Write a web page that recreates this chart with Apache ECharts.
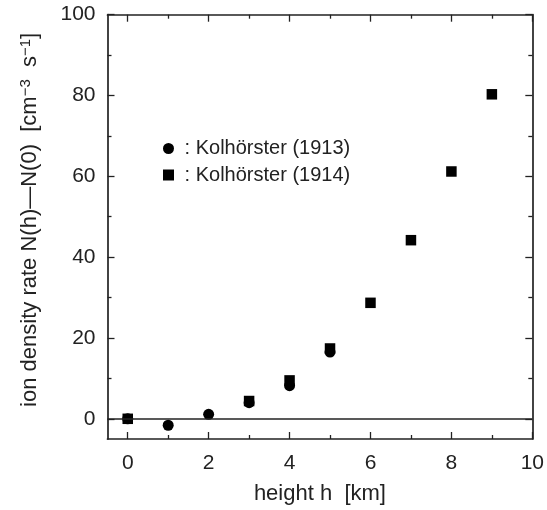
<!DOCTYPE html>
<html>
<head>
<meta charset="utf-8">
<script src="https://cdn.jsdelivr.net/npm/echarts@6/dist/echarts.min.js"></script>
<style>html,body{margin:0;padding:0;background:#fff}#c{width:547px;height:510px}</style>
</head>
<body>
<div id="c"></div>
<script>
const heights1913 = [0, 1, 2, 3, 4, 5];
const values1913 = [0, -1.6, 1.1, 4.0, 8.2, 16.5];
const heights1914 = [0, 3, 4, 5, 6, 7, 8, 9];
const values1914 = [0, 4.4, 9.5, 17.4, 28.7, 44.2, 61.2, 80.3];
const xMajorTicks = [0, 2, 4, 6, 8, 10];
const xMinorTicks = [1, 3, 5, 7, 9];
const yMajorTicks = [0, 20, 40, 60, 80, 100];
const yMinorTicks = [10, 30, 50, 70, 90];
const seriesNames = ['Kolhörster (1913)', 'Kolhörster (1914)'];

const FONT = 'Liberation Sans, Arial, Helvetica, sans-serif';
const INK = '#222';
const xMin = -0.5, xMax = 10, yMin = -5, yMax = 100;

function xAxisDef(position, ticks, len, withLine, withLabels) {
  return {
    type: 'value', position: position, min: xMin, max: xMax,
    axisLine: { show: withLine, onZero: false, lineStyle: { color: INK, width: 1.7 } },
    axisTick: { show: true, inside: true, length: len, customValues: ticks, lineStyle: { color: INK, width: 1.3 } },
    axisLabel: withLabels ? { show: true, customValues: ticks, margin: 14, fontSize: 21, color: INK, fontFamily: FONT } : { show: false },
    splitLine: { show: false }
  };
}
function yAxisDef(position, ticks, len, withLine, withLabels) {
  return {
    type: 'value', position: position, min: yMin, max: yMax,
    axisLine: { show: withLine, onZero: false, lineStyle: { color: INK, width: 1.7 } },
    axisTick: { show: true, inside: true, length: len, customValues: ticks, lineStyle: { color: INK, width: 1.3 } },
    axisLabel: withLabels ? { show: true, customValues: ticks, margin: 12, fontSize: 21, color: INK, fontFamily: FONT } : { show: false },
    splitLine: { show: false }
  };
}

const xAxes = [
  Object.assign(xAxisDef('bottom', xMajorTicks, 7, true, true), {
    name: 'height h  [km]', nameLocation: 'middle', nameGap: 44,
    nameTextStyle: { fontSize: 22, color: INK, fontFamily: FONT }
  }),
  xAxisDef('bottom', xMinorTicks, 4, false, false),
  xAxisDef('top', xMajorTicks, 7, true, false),
  xAxisDef('top', xMinorTicks, 4, false, false)
];
const yAxes = [
  Object.assign(yAxisDef('left', yMajorTicks, 7, true, true), {
    name: 'ion density rate N(h)\u2014N(0)  [cm{sup|\u22123}  s{sup|\u22121}]',
    nameLocation: 'middle', nameGap: 67, nameRotate: 90,
    nameTextStyle: {
      fontSize: 22, color: INK, fontFamily: FONT, padding: [0, 0, 0, 14],
      rich: { sup: { fontSize: 15, color: INK, fontFamily: FONT, verticalAlign: 'top', lineHeight: 15 } }
    }
  }),
  yAxisDef('left', yMinorTicks, 4, false, false),
  yAxisDef('right', yMajorTicks, 7, true, false),
  yAxisDef('right', yMinorTicks, 4, false, false)
];

const chart = echarts.init(document.getElementById('c'));
chart.setOption({
  animation: false,
  backgroundColor: '#fff',
  grid: { left: 107.5, right: 14.3, top: 14.7, bottom: 70.7, containLabel: false },
  xAxis: xAxes,
  yAxis: yAxes,
  legend: {
    orient: 'vertical', left: 158, top: 133.5, itemGap: 6.5,
    itemWidth: 11, itemHeight: 11,
    formatter: ' : {name}',
    textStyle: { fontSize: 20, color: INK, fontFamily: FONT },
    data: [{ name: seriesNames[0], icon: 'circle' }, { name: seriesNames[1], icon: 'rect' }]
  },
  series: [
    {
      name: seriesNames[0], type: 'scatter', xAxisIndex: 0, yAxisIndex: 0,
      symbol: 'circle', symbolSize: 11, itemStyle: { color: '#000', opacity: 1 },
      data: heights1913.map((h, i) => [h, values1913[i]]),
      markLine: {
        silent: true, symbol: ['none', 'none'], label: { show: false },
        lineStyle: { color: INK, width: 1.7, type: 'solid' },
        data: [{ yAxis: 0 }]
      }
    },
    {
      name: seriesNames[1], type: 'scatter', xAxisIndex: 0, yAxisIndex: 0,
      symbol: 'rect', symbolSize: 10.5, itemStyle: { color: '#000', opacity: 1 },
      data: heights1914.map((h, i) => [h, values1914[i]])
    }
  ]
});
</script>
</body>
</html>
